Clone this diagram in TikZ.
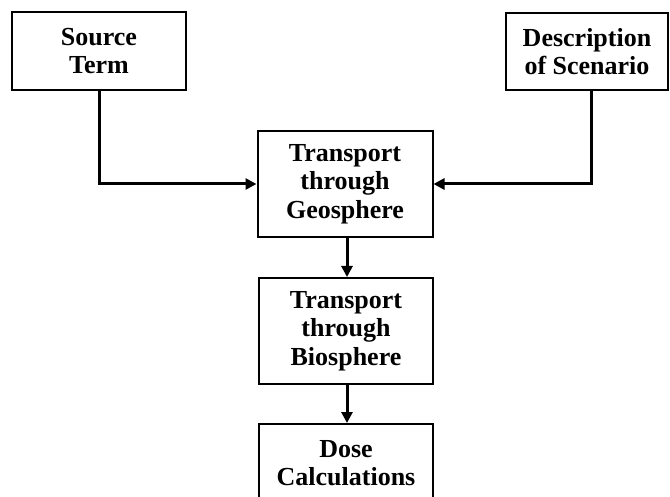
\documentclass[tikz,border=0pt]{standalone}
\usepackage{fontspec}
\setmainfont{Liberation Serif}
\usetikzlibrary{arrows.meta}
\begin{document}
\begin{tikzpicture}[x=1pt,y=-1pt,
  box/.style={draw=black, line width=2pt, fill=white, align=center, inner sep=0pt,
    font=\fontsize{26}{28.5}\selectfont\bfseries},
  conn/.style={line width=3pt, -{Triangle[length=11pt,width=11pt]}}]
\useasboundingbox (0,0) rectangle (670,497);
\clip (0,0) rectangle (670,497);
\fill[white] (0,0) rectangle (670,497);
\node[box, minimum width=174pt, minimum height=78pt] (src) at (99,51) {Source\\Term};
\node[box, minimum width=162pt, minimum height=77pt] (desc) at (587,51.5) {Description\\of Scenario};
\node[box, minimum width=175pt, minimum height=106pt] (geo) at (345,184) {Transport\\through\\Geosphere};
\node[box, minimum width=174pt, minimum height=106pt] (bio) at (346,331) {Transport\\through\\Biosphere};
\node[box, minimum width=174pt, minimum height=130pt, text depth=0pt] (dose) at (346,489) {};
\node[font=\fontsize{26}{28.5}\selectfont\bfseries, align=center, anchor=north, inner sep=0pt] (dosetxt) at (346,440) {Dose\\Calculations};
\draw[conn] (src.south) |- (geo.west);
\draw[conn] ([xshift=4pt]desc.south) |- (geo.east);
\draw[conn] ([xshift=2pt]geo.south) -- ([xshift=1pt]bio.north);
\draw[conn] ([xshift=1pt]bio.south) -- ([xshift=1pt]dose.north);
\end{tikzpicture}
\end{document}
